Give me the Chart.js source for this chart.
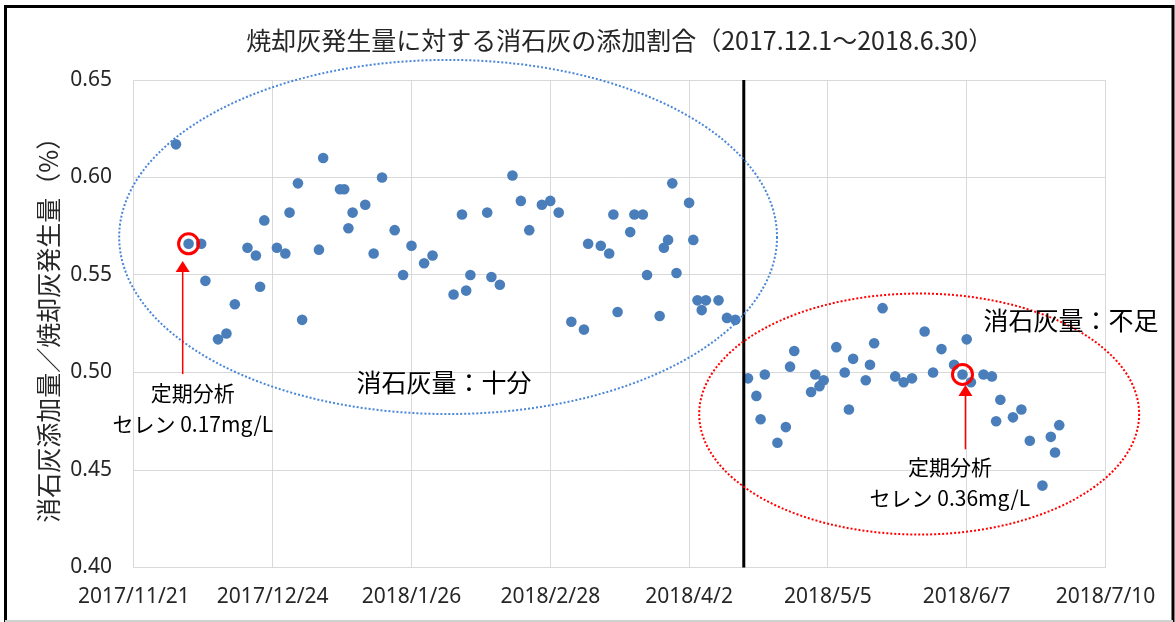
<!DOCTYPE html>
<html lang="ja">
<head>
<meta charset="utf-8">
<title>焼却灰発生量に対する消石灰の添加割合</title>
<script src="https://cdn.jsdelivr.net/npm/chart.js@4.4.1/dist/chart.umd.min.js"></script>
<style>
  html, body { margin: 0; padding: 0; background: #fff; }
  #wrap { width: 1175px; height: 622px; }
</style>
</head>
<body>
<div id="wrap"><canvas id="limeChart" width="1175" height="622"></canvas></div>
<script>
// 日付（横軸）と添加割合（縦軸）
const originDate = '2017/11/21';
const dates = [
  '2017/12/1', '2017/12/4', '2017/12/7', '2017/12/8', '2017/12/11', '2017/12/13', '2017/12/15',
  '2017/12/18', '2017/12/20', '2017/12/21', '2017/12/22', '2017/12/25', '2017/12/27', '2017/12/28',
  '2017/12/30', '2017/12/31', '2018/1/4', '2018/1/5', '2018/1/9', '2018/1/10', '2018/1/11',
  '2018/1/12', '2018/1/15', '2018/1/17', '2018/1/19', '2018/1/22', '2018/1/24', '2018/1/26',
  '2018/1/29', '2018/1/31', '2018/2/5', '2018/2/7', '2018/2/8', '2018/2/9', '2018/2/13',
  '2018/2/14', '2018/2/16', '2018/2/19', '2018/2/21', '2018/2/23', '2018/2/26', '2018/2/28',
  '2018/3/2', '2018/3/5', '2018/3/8', '2018/3/9', '2018/3/12', '2018/3/14', '2018/3/15',
  '2018/3/16', '2018/3/19', '2018/3/20', '2018/3/22', '2018/3/23', '2018/3/26', '2018/3/27',
  '2018/3/28', '2018/3/29', '2018/3/30', '2018/4/2', '2018/4/3', '2018/4/4', '2018/4/5',
  '2018/4/6', '2018/4/9', '2018/4/11', '2018/4/13',
  '2018/4/16', '2018/4/18', '2018/4/19', '2018/4/20', '2018/4/23', '2018/4/25', '2018/4/26',
  '2018/4/27', '2018/5/1', '2018/5/2', '2018/5/3', '2018/5/4', '2018/5/7', '2018/5/9',
  '2018/5/10', '2018/5/11', '2018/5/14', '2018/5/15', '2018/5/16', '2018/5/18', '2018/5/21',
  '2018/5/23', '2018/5/25', '2018/5/28', '2018/5/30', '2018/6/1', '2018/6/4', '2018/6/6',
  '2018/6/7', '2018/6/8', '2018/6/11', '2018/6/13', '2018/6/14', '2018/6/15', '2018/6/18',
  '2018/6/20', '2018/6/22', '2018/6/25', '2018/6/27', '2018/6/28', '2018/6/29'
];
const ratios = [
  0.617, 0.566, 0.566, 0.547, 0.517, 0.520, 0.535,
  0.564, 0.560, 0.544, 0.578, 0.564, 0.561, 0.582,
  0.597, 0.527, 0.563, 0.610, 0.594, 0.594, 0.574,
  0.582, 0.586, 0.561, 0.600, 0.573, 0.550, 0.565,
  0.556, 0.560, 0.540, 0.581, 0.542, 0.550, 0.582,
  0.549, 0.545, 0.601, 0.588, 0.573, 0.586, 0.588,
  0.582, 0.526, 0.522, 0.566, 0.565, 0.561, 0.581,
  0.531, 0.572, 0.581, 0.581, 0.550, 0.529, 0.564,
  0.568, 0.597, 0.551, 0.587, 0.568, 0.537, 0.532,
  0.537, 0.537, 0.528, 0.527,
  0.497, 0.488, 0.476, 0.499, 0.464, 0.472, 0.503,
  0.511, 0.490, 0.499, 0.493, 0.496, 0.513, 0.500,
  0.481, 0.507, 0.496, 0.504, 0.515, 0.533, 0.498,
  0.495, 0.497, 0.521, 0.500, 0.512, 0.504, 0.499,
  0.517, 0.495, 0.499, 0.498, 0.475, 0.486, 0.477,
  0.481, 0.465, 0.442, 0.467, 0.459, 0.473
];
const xMaxDays = 231;
const xStepDays = 33;
const yTicks = [0.40, 0.45, 0.50, 0.55, 0.60, 0.65];
const splitDate = '2018/4/15';

const titleText = '焼却灰発生量に対する消石灰の添加割合（2017.12.1～2018.6.30）';
const yTitle = '消石灰添加量／焼却灰発生量（%）';

// 注記（楕円・ラベル）
const zones = [
  { day: 74.7, value: 0.5695, rDays: 78.2, rValue: 0.0908, color: '#4a86d8',
    label: '消石灰量：十分', labelDay: 73.7, labelValue: 0.4951 },
  { day: 186.7, value: 0.4787, rDays: 52.3, rValue: 0.0618, color: '#ff0000',
    label: '消石灰量：不足', labelDay: 222.8, labelValue: 0.5269 }
];
const analyses = [
  { date: '2017/12/4', arrowDay: 11.6, arrowFrom: 0.4992, arrowTo: 0.5572,
    lines: ['定期分析', 'セレン 0.17mg/L'], labelDay: 14.0, labelValues: [0.4895, 0.4736] },
  { date: '2018/6/6', arrowDay: 197.7, arrowFrom: 0.4606, arrowTo: 0.4936,
    lines: ['定期分析', 'セレン 0.36mg/L'], labelDay: 194.0, labelValues: [0.4516, 0.4356] }
];

const DAY_MS = 86400000;
function parseDate(s) {
  const [y, m, d] = s.split('/').map(Number);
  return Date.UTC(y, m - 1, d);
}
function toDay(s) {
  return Math.round((parseDate(s) - parseDate(originDate)) / DAY_MS);
}
function dayLabel(v) {
  const d = new Date(parseDate(originDate) + v * DAY_MS);
  return d.getUTCFullYear() + '/' + (d.getUTCMonth() + 1) + '/' + d.getUTCDate();
}

const points = dates.map((d, i) => ({ x: toDay(d), y: ratios[i] }));

const cjk = '"Noto Sans CJK JP", "Noto Sans", sans-serif';

const frame = {
  id: 'frame',
  beforeDraw(chart) {
    const { ctx } = chart;
    ctx.save();
    ctx.fillStyle = '#fff';
    ctx.fillRect(0, 0, chart.width, chart.height);
    ctx.restore();
  },
  afterDraw(chart) {
    const { ctx, chartArea } = chart;
    ctx.save();
    // タイトル
    ctx.fillStyle = '#262626';
    ctx.font = '25px ' + cjk;
    ctx.textAlign = 'center';
    ctx.textBaseline = 'middle';
    ctx.fillText(titleText, (chartArea.left + chartArea.right) / 2, 40);
    // 外枠
    ctx.strokeStyle = '#000';
    ctx.lineWidth = 3;
    ctx.beginPath();
    ctx.moveTo(5.5, 622);
    ctx.lineTo(5.5, 6.5);
    ctx.lineTo(1173, 6.5);
    ctx.lineTo(1173, 622);
    ctx.stroke();
    ctx.strokeStyle = '#d0d0d0';
    ctx.lineWidth = 2;
    ctx.beginPath();
    ctx.moveTo(5, 621);
    ctx.lineTo(1173, 621);
    ctx.stroke();
    ctx.restore();
  }
};

const notes = {
  id: 'notes',
  afterDatasetsDraw(chart) {
    const { ctx, chartArea, scales: { x, y } } = chart;
    ctx.save();

    // 境界線
    const sx = x.getPixelForValue(toDay(splitDate));
    ctx.strokeStyle = '#000';
    ctx.lineWidth = 3;
    ctx.beginPath();
    ctx.moveTo(sx, chartArea.top);
    ctx.lineTo(sx, chartArea.bottom);
    ctx.stroke();

    // 楕円と区分ラベル
    zones.forEach(z => {
      const cx = x.getPixelForValue(z.day);
      const cy = y.getPixelForValue(z.value);
      const rx = Math.abs(x.getPixelForValue(z.day + z.rDays) - cx);
      const ry = Math.abs(y.getPixelForValue(z.value + z.rValue) - cy);
      ctx.setLineDash([2, 2]);
      ctx.lineWidth = 2;
      ctx.strokeStyle = z.color;
      ctx.beginPath();
      ctx.ellipse(cx, cy, rx, ry, 0, 0, Math.PI * 2);
      ctx.stroke();
      ctx.setLineDash([]);
      ctx.fillStyle = '#000';
      ctx.font = '25px ' + cjk;
      ctx.textAlign = 'center';
      ctx.textBaseline = 'middle';
      ctx.fillText(z.label, x.getPixelForValue(z.labelDay), y.getPixelForValue(z.labelValue));
    });

    // 定期分析の印・矢印・文字
    analyses.forEach(a => {
      const i = dates.indexOf(a.date);
      const px = x.getPixelForValue(points[i].x);
      const py = y.getPixelForValue(points[i].y);
      ctx.strokeStyle = '#ff0000';
      ctx.lineWidth = 3;
      ctx.beginPath();
      ctx.arc(px, py, 10, 0, Math.PI * 2);
      ctx.stroke();

      const ax = x.getPixelForValue(a.arrowDay);
      const yFrom = y.getPixelForValue(a.arrowFrom);
      const yTo = y.getPixelForValue(a.arrowTo);
      ctx.lineWidth = 1.5;
      ctx.beginPath();
      ctx.moveTo(ax, yFrom);
      ctx.lineTo(ax, yTo + 8);
      ctx.stroke();
      ctx.fillStyle = '#ff0000';
      ctx.beginPath();
      ctx.moveTo(ax, yTo);
      ctx.lineTo(ax - 7, yTo + 11);
      ctx.lineTo(ax + 7, yTo + 11);
      ctx.closePath();
      ctx.fill();

      ctx.fillStyle = '#000';
      ctx.font = '21px ' + cjk;
      ctx.textAlign = 'center';
      ctx.textBaseline = 'middle';
      a.lines.forEach((t, k) => {
        ctx.fillText(t, x.getPixelForValue(a.labelDay), y.getPixelForValue(a.labelValues[k]));
      });
    });
    ctx.restore();
  }
};

new Chart(document.getElementById('limeChart'), {
  type: 'scatter',
  data: {
    datasets: [{
      label: '添加割合',
      data: points,
      backgroundColor: '#4a7ebb',
      borderColor: '#4a7ebb',
      borderWidth: 0,
      pointRadius: 5.3
    }]
  },
  options: {
    responsive: false,
    animation: false,
    devicePixelRatio: 1,
    events: [],
    layout: { padding: { top: 80, left: 33, right: 69.5, bottom: 10 } },
    plugins: {
      legend: { display: false },
      tooltip: { enabled: false }
    },
    scales: {
      x: {
        type: 'linear',
        min: 0,
        max: xMaxDays,
        afterFit: s => { s.height = 44.5; },
        afterBuildTicks: s => {
          s.ticks = [];
          for (let v = 0; v <= xMaxDays; v += xStepDays) s.ticks.push({ value: v });
        },
        ticks: {
          autoSkip: false,
          maxRotation: 0,
          padding: 17,
          color: '#262626',
          font: { family: '"Noto Sans", sans-serif', size: 21 },
          callback: v => dayLabel(v)
        },
        grid: { color: '#d9d9d9', drawTicks: false },
        border: { display: false }
      },
      y: {
        min: yTicks[0],
        max: yTicks[yTicks.length - 1],
        afterFit: s => { s.width = 100.9; },
        afterBuildTicks: s => { s.ticks = yTicks.map(v => ({ value: v })); },
        ticks: {
          padding: 22,
          color: '#262626',
          font: { family: '"Noto Sans", sans-serif', size: 21 },
          callback: v => v.toFixed(2)
        },
        grid: { color: '#d9d9d9', drawTicks: false },
        border: { display: false },
        title: {
          display: true,
          text: yTitle,
          color: '#262626',
          padding: 0,
          font: { family: cjk, size: 25 }
        }
      }
    }
  },
  plugins: [frame, notes]
});
</script>
</body>
</html>
